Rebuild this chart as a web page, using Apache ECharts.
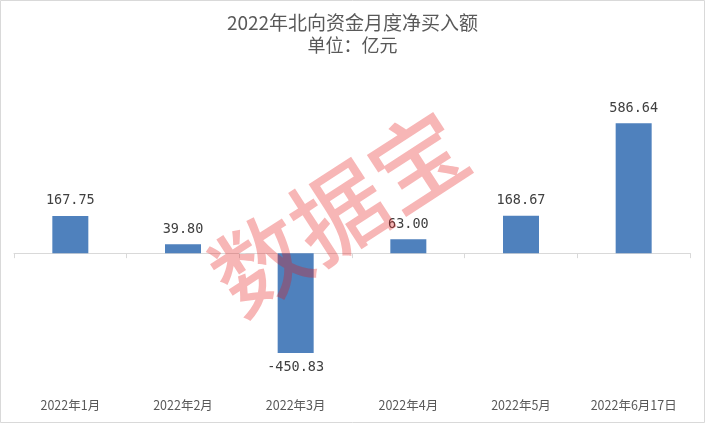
<!DOCTYPE html>
<html>
<head>
<meta charset="utf-8">
<script src="https://cdn.jsdelivr.net/npm/echarts@6/dist/echarts.min.js"></script>
<style>
html, body { margin: 0; padding: 0; background: #fff; }
#main { width: 705px; height: 423px; }
</style>
</head>
<body>
<div id="main"></div>
<script>
// 数据
var months = ['2022年1月', '2022年2月', '2022年3月', '2022年4月', '2022年5月', '2022年6月17日'];
var netBuy = [167.75, 39.80, -450.83, 63.00, 168.67, 586.64];

var chart = echarts.init(document.getElementById('main'));

var barData = netBuy.map(function (v) {
	return {
		value: v,
		label: { position: v < 0 ? 'bottom' : 'top' }
	};
});

var option = {
	backgroundColor: '#fff',
	animation: false,
	title: {
		text: '2022年北向资金月度净买入额',
		subtext: '单位：亿元',
		left: 'center',
		top: 7,
		itemGap: 0,
		textStyle: { fontFamily: 'Noto Sans CJK SC', fontSize: 19, fontWeight: 'normal', color: '#595959', lineHeight: 22 },
		subtextStyle: { fontFamily: 'Noto Sans CJK SC', fontSize: 18, color: '#595959', lineHeight: 22 }
	},
	grid: { left: 14, right: 15, top: 76, bottom: 37, containLabel: false },
	xAxis: [{
		type: 'category',
		data: months,
		axisLine: { onZero: true, lineStyle: { color: '#D9D9D9', width: 1 } },
		axisTick: { show: true, length: 5, lineStyle: { color: '#D9D9D9' } },
		axisLabel: { show: false }
	}, {
		type: 'category',
		data: months,
		position: 'bottom',
		axisLine: { show: false },
		axisTick: { show: false },
		axisLabel: { margin: 13, fontFamily: 'Noto Sans CJK SC', fontSize: 12.5, color: '#595959' }
	}],
	yAxis: {
		type: 'value',
		min: -600,
		max: 800,
		show: false,
		splitLine: { show: false }
	},
	series: [{
		type: 'bar',
		xAxisIndex: 0,
		data: barData,
		barWidth: 36,
		itemStyle: { color: '#4F81BD' },
		label: {
			show: true,
			distance: 8,
			fontFamily: 'DejaVu Sans Mono',
			fontSize: 13.5,
			color: '#404040',
			formatter: function (p) { return p.value.toFixed(2); }
		}
	}],
	graphic: [{
		type: 'rect',
		shape: { x: 0.5, y: 0.5, width: 704, height: 422 },
		style: { fill: 'none', stroke: '#D9D9D9', lineWidth: 1 },
		z: 0
	}, {
		type: 'text',
		x: 339,
		y: 212,
		rotation: 33 * Math.PI / 180,
		z: 100,
		style: {
			text: '数据宝',
			fontFamily: 'Noto Sans CJK SC',
			fontWeight: 500,
			fontSize: 94,
			fill: 'rgba(230,20,20,0.31)',
			textAlign: 'center',
			textVerticalAlign: 'middle'
		}
	}]
};

chart.setOption(option);
</script>
</body>
</html>
